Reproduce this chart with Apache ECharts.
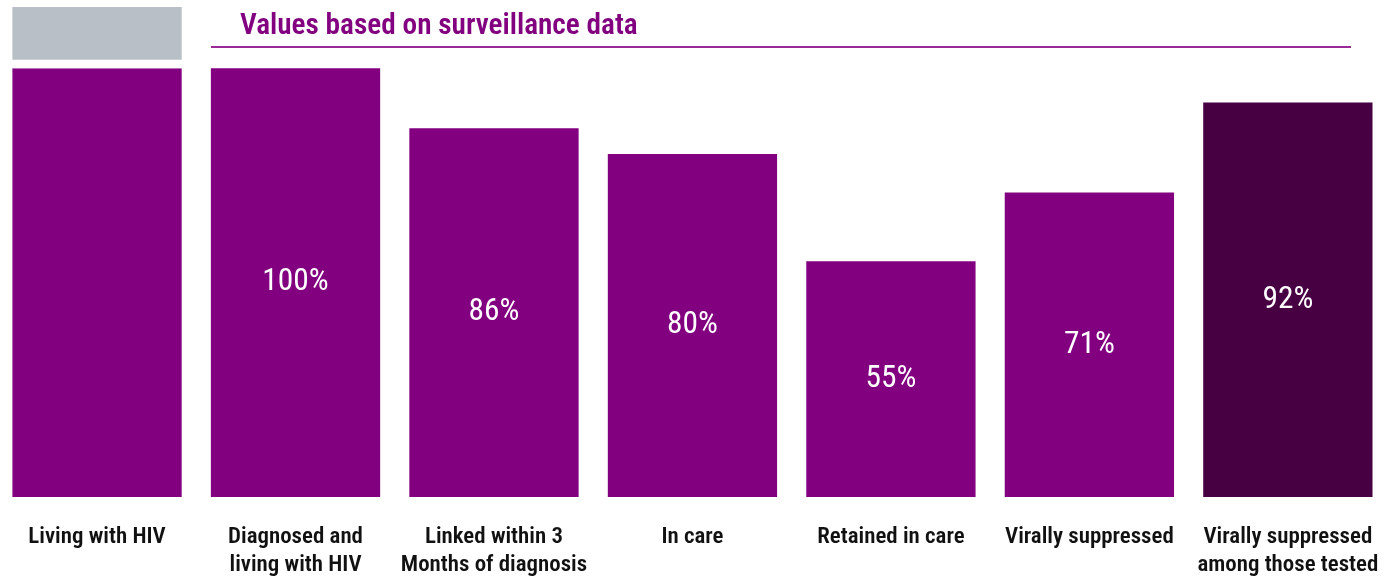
<!DOCTYPE html>
<html>
<head>
<meta charset="utf-8">
<style>
  html, body { margin: 0; padding: 0; background: #ffffff; overflow: hidden; }
  body { position: relative; width: 1398px; height: 579px; }
  /* the drawing area starts a few pixels left of the page edge so the first bar sits close to it */
  #chart { position: absolute; left: -3px; top: 0; width: 1401px; height: 579px; }
</style>
<script src="https://cdn.jsdelivr.net/npm/echarts@6/dist/echarts.min.js"></script>
</head>
<body>
<div id="chart"></div>
<script>
// HIV care continuum, percentages relative to people diagnosed and living with HIV
const categories = [
  'Living with HIV',
  'Diagnosed and\nliving with HIV',
  'Linked within 3\nMonths of diagnosis',
  'In care',
  'Retained in care',
  'Virally suppressed',
  'Virally suppressed\namong those tested'
];
const stageValues = [100, 100, 86, 80, 55, 71, 92];
const stageLabels = ['', '100%', '86%', '80%', '55%', '71%', '92%'];
// Estimated undiagnosed share stacked above the first bar, with a small white gap
const gapValues = [1.95, null, null, null, null, null, null];
const undiagnosedValues = [12.35, null, null, null, null, null, null];
const titleText = 'Values based on surveillance data';

const purple = '#820080';
const darkPurple = '#470042';
const grey = '#b8bfc6';

// Choose the installed narrow face whose proportions best suit a tall, condensed label look.
const ctx = document.createElement('canvas').getContext('2d');
function measure(family, stretch, weight, s) {
  ctx.font = '10px monospace';
  ctx.font = [weight, stretch, '100px', family + ', monospace'].filter(Boolean).join(' ');
  const m = ctx.measureText(s);
  const cap = ctx.measureText('H').actualBoundingBoxAscent;
  return { w: m.width, cap: cap };
}
const candidates = [
  ['"Noto Sans"', 'extra-condensed'],
  ['"Noto Sans"', 'condensed'],
  ['"Noto Sans"', 'semi-condensed'],
  ['"Open Sans"', 'condensed'],
  ['"Open Sans"', 'semi-condensed'],
  ['Roboto', 'condensed'],
  ['"Liberation Sans Narrow"', ''],
  ['"DejaVu Sans"', 'condensed'],
  ['"Liberation Sans"', '']
];
const sample = 'Living with HIV';
const wantRatio = 139 / 16;
let best = null;
candidates.forEach(([fam, st]) => {
  const m = measure(fam, st, '600', sample);
  const r = m.w / m.cap;
  const score = Math.abs(Math.log(r / wantRatio));
  if (!best || score < best.score) best = { fam, st, score };
});
const family = best.fam + ', sans-serif';
const stretch = best.st;
const boldW = ('600 ' + stretch).trim();
const normalW = ('normal ' + stretch).trim();

// Font size that gives a sample string both a target width and cap height (averaged).
function fitSize(weight, s, width, capHeight) {
  const m = measure(best.fam, stretch, weight.split(' ')[0], s);
  const byW = width / m.w * 100;
  const byH = capHeight / m.cap * 100;
  return Math.round((byW + byH) / 2 * 10) / 10;
}
const axisSize = fitSize(boldW, sample, 139, 16);
const titleSize = fitSize(boldW, titleText, 390, 21.2);
const valueSize = fitSize(normalW, '100%', 68, 22);

const chart = echarts.init(document.getElementById('chart'), null, { renderer: 'canvas' });

const stageData = stageValues.map((v, i) => ({
  value: v,
  itemStyle: { color: i === stageValues.length - 1 ? darkPurple : purple },
  label: { formatter: stageLabels[i] }
}));

chart.setOption({
  animation: false,
  backgroundColor: '#ffffff',
  title: {
    text: titleText,
    left: 238,
    top: 7,
    textStyle: { color: purple, fontFamily: family, fontSize: titleSize, fontWeight: boldW }
  },
  graphic: [{
    type: 'line',
    shape: { x1: 214, y1: 47, x2: 1354, y2: 47 },
    style: { stroke: '#9a2a98', lineWidth: 1.8 }
  }],
  grid: { left: 0.8, right: 10.9, top: 3.9, bottom: 81.5, containLabel: false },
  xAxis: {
    type: 'category',
    data: categories,
    axisLine: { show: false },
    axisTick: { show: false },
    axisLabel: {
      interval: 0,
      margin: 26,
      color: '#111111',
      fontFamily: family,
      fontSize: axisSize,
      fontWeight: boldW,
      lineHeight: 28
    }
  },
  yAxis: {
    type: 'value',
    min: 0,
    max: 115,
    show: false,
    splitLine: { show: false }
  },
  series: [
    {
      name: 'Stage',
      type: 'bar',
      stack: 'total',
      barWidth: '85.3%',
      data: stageData,
      label: {
        show: true,
        position: 'inside',
        color: '#ffffff',
        fontFamily: family,
        fontSize: valueSize,
        fontWeight: normalW
      }
    },
    {
      name: 'Gap',
      type: 'bar',
      stack: 'total',
      data: gapValues,
      itemStyle: { color: '#ffffff' },
      silent: true
    },
    {
      name: 'Undiagnosed',
      type: 'bar',
      stack: 'total',
      data: undiagnosedValues,
      itemStyle: { color: grey }
    }
  ]
});
</script>
</body>
</html>
